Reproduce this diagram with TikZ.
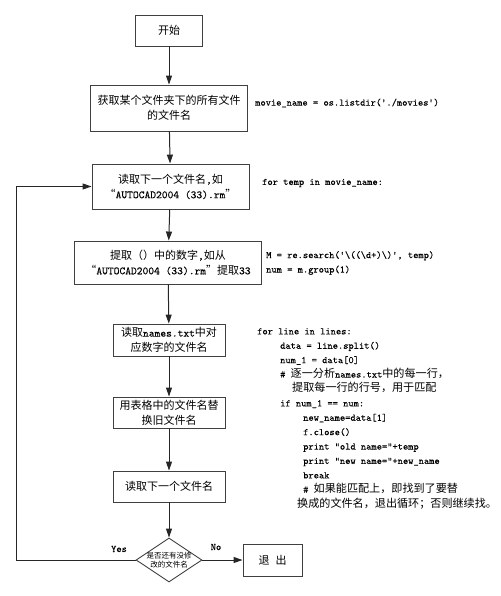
\documentclass[tikz,border=0pt]{standalone}
\usepackage{fontspec}
\setmonofont{Latin Modern Mono}[FakeBold=0.2]
\newfontfamily\cjk{Noto Sans CJK SC}
\usetikzlibrary{shapes.geometric,arrows.meta}
\newcommand\zh[1]{{\cjk\fontsize{11.1}{14.4}\selectfont #1}}
\newcommand\en[1]{{\ttfamily #1}}
\tikzset{
  box/.style={draw=black!75, line width=0.9pt, align=center, inner sep=2pt,
    font=\cjk\fontsize{11}{15}\selectfont},
  flow/.style={draw=black!85, line width=1pt, -{Triangle[length=9pt,width=6pt]}},
  code/.style={anchor=west, align=left, inner sep=0pt,
    font=\ttfamily\fontsize{10}{14.4}\selectfont},
}
\begin{document}
\begin{tikzpicture}[x=1pt,y=-1pt]
  \useasboundingbox (0,0) rectangle (500,596);
  % boxes of the flow
  \node[box, minimum width=67pt, minimum height=31pt] (start) at (169,30.5) {开始};
  \node[box, minimum width=157pt, minimum height=46pt] (getall) at (169,108)
    {获取某个文件夹下的所有文件\\的文件名};
  \node[box, minimum width=157pt, minimum height=45pt] (readnext) at (170.5,186.5)
    {读取下一个文件名\en{,}如\\“\en{AUTOCAD2004 (33).rm}”};
  \node[box, minimum width=187pt, minimum height=43pt] (extract) at (168,262.5)
    {提取（）中的数字\en{,}如从\\“\en{AUTOCAD2004 (33).rm}”提取\en{33}};
  \node[box, minimum width=112pt, minimum height=32pt] (readtxt) at (169,340)
    {读取\en{names.txt}中对\\应数字的文件名};
  \node[box, minimum width=112pt, minimum height=31pt] (replace) at (169,412.5)
    {用表格中的文件名替\\换旧文件名};
  \node[box, minimum width=112pt, minimum height=31pt] (readname) at (169,486.5)
    {读取下一个文件名};
  \node[box, shape=diamond, minimum width=66pt, minimum height=44pt, inner sep=0pt,
    label={[font=\cjk\fontsize{7.5}{9.5}\selectfont, align=center]center:是否还有没修\\改的文件名}]
    (check) at (169,560) {};
  \node[box, minimum width=59pt, minimum height=32pt] (exit) at (272.5,560)
    {退\hspace{6pt}出};
  \coordinate (loop) at (16,560);
  % connectors
  \draw[flow] (start) -- (getall);
  \draw[flow] (getall) -- (readnext);
  \draw[flow] (readnext) -- (extract);
  \draw[flow] (extract) -- (readtxt);
  \draw[flow] (readtxt) -- (replace);
  \draw[flow] (replace) -- (readname);
  \draw[flow] (readname) -- (check);
  \draw[flow] (check) -- (exit);
  \draw[flow] (check.west) -- (loop) |- (readnext.west);
  \node[font=\ttfamily\fontsize{10}{12}\selectfont] (yes) at (119,549) {Yes};
  \node[font=\ttfamily\fontsize{10}{12}\selectfont] (no) at (216,547) {No};
  % code beside the boxes
  \node[code] (c1) at (255,103) {movie\_name = os.listdir('./movies')};
  \node[code] (c2) at (262,183) {for temp in movie\_name:};
  \node[code] (c3) at (266,263)
    {M = re.search('\textbackslash((\textbackslash d+)\textbackslash)', temp)\\num = m.group(1)};
  \node[code, anchor=north west] (c4) at (257,328)
    {for line in lines:\\
     \hspace*{23pt}data = line.split()\\
     \hspace*{23pt}num\_1 = data[0]\\
     \hspace*{23pt}\# \zh{逐一分析}names.txt\zh{中的每一行，}\\
     \hspace*{35pt}\zh{提取每一行的行号，用于匹配}\\
     \hspace*{23pt}if num\_1 == num:\\
     \hspace*{46pt}new\_name=data[1]\\
     \hspace*{46pt}f.close()\\
     \hspace*{46pt}print "old name="+temp\\
     \hspace*{46pt}print "new name="+new\_name\\
     \hspace*{46pt}break\\
     \hspace*{46pt}\# \zh{如果能匹配上，即找到了要替}\\
     \hspace*{40pt}\zh{换成的文件名，退出循环；否则继续找。}};
\end{tikzpicture}
\end{document}
